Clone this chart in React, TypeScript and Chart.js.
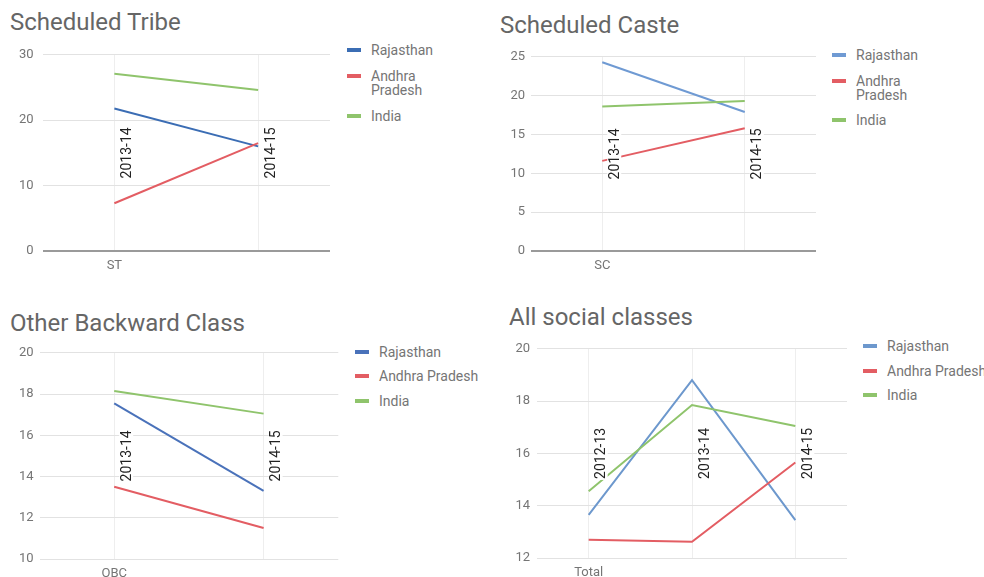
import React, { useEffect, useRef } from "react";
import { Chart, registerables } from "chart.js";

Chart.register(...registerables);

// ---------- data ----------
const seriesNames = ["Rajasthan", "Andhra Pradesh", "India"];

const stGroup = "ST";
const stYears = ["2013-14", "2014-15"];
const stRajasthan = [21.8, 16.0];
const stAndhra = [7.3, 16.5];
const stIndia = [27.1, 24.6];
const stTicks = [0, 10, 20, 30];

const scGroup = "SC";
const scYears = ["2013-14", "2014-15"];
const scRajasthan = [24.3, 17.9];
const scAndhra = [11.6, 15.8];
const scIndia = [18.6, 19.3];
const scTicks = [0, 5, 10, 15, 20, 25];

const obcGroup = "OBC";
const obcYears = ["2013-14", "2014-15"];
const obcRajasthan = [17.55, 13.3];
const obcAndhra = [13.5, 11.5];
const obcIndia = [18.15, 17.05];
const obcTicks = [10, 12, 14, 16, 18, 20];

const allGroup = "Total";
const allYears = ["2012-13", "2013-14", "2014-15"];
const allRajasthan = [13.65, 18.8, 13.45];
const allAndhra = [12.7, 12.62, 15.65];
const allIndia = [14.55, 17.85, 17.05];
const allTicks = [12, 14, 16, 18, 20];

// ---------- styling / layout ----------
const RED = "#e35d63";
const GREEN = "#8fc46c";

type PanelCfg = {
  title: string;
  titleLeft: number;
  titleTop: number;
  group: string;
  years: string[];
  series: number[][];
  ticks: number[];
  colors: string[];
  x0: number;
  area: { l: number; t: number; r: number; b: number };
  yPad: number;
  legend: { left: number; top: number; gap: number; wrap: boolean };
};

const panels: PanelCfg[] = [
  {
    title: "Scheduled Tribe",
    titleLeft: 10,
    titleTop: 10,
    group: stGroup,
    years: stYears,
    series: [stRajasthan, stAndhra, stIndia],
    ticks: stTicks,
    colors: ["#3b6db4", RED, GREEN],
    x0: 0,
    area: { l: 42.5, t: 50, r: 330, b: 251 },
    yPad: 9,
    legend: { left: 347, top: 43, gap: 12, wrap: true },
  },
  {
    title: "Scheduled Caste",
    titleLeft: 500,
    titleTop: 13,
    group: scGroup,
    years: scYears,
    series: [scRajasthan, scAndhra, scIndia],
    ticks: scTicks,
    colors: ["#6f9ad3", RED, GREEN],
    x0: 492,
    area: { l: 531, t: 55, r: 816, b: 251 },
    yPad: 6,
    legend: { left: 832, top: 48, gap: 11.5, wrap: true },
  },
  {
    title: "Other Backward Class",
    titleLeft: 10,
    titleTop: 310.5,
    group: obcGroup,
    years: obcYears,
    series: [obcRajasthan, obcAndhra, obcIndia],
    ticks: obcTicks,
    colors: ["#4a72ba", RED, GREEN],
    x0: 0,
    area: { l: 39.5, t: 351.7, r: 338.3, b: 559 },
    yPad: 6,
    legend: { left: 355, top: 345, gap: 10.4, wrap: false },
  },
  {
    title: "All social classes",
    titleLeft: 509,
    titleTop: 305,
    group: allGroup,
    years: allYears,
    series: [allRajasthan, allAndhra, allIndia],
    ticks: allTicks,
    colors: ["#6d98cd", RED, GREEN],
    x0: 492,
    area: { l: 537, t: 346, r: 847, b: 558 },
    yPad: 7,
    legend: { left: 863, top: 339, gap: 10.5, wrap: false },
  },
];

const yearLabelPlugin = {
  id: "yearLabels",
  afterDatasetsDraw(chart: any) {
    const { ctx, chartArea } = chart;
    const x = chart.scales.x;
    const labels: string[] = chart.data.labels;
    const cy = (chartArea.top + chartArea.bottom) / 2;
    ctx.save();
    ctx.font = "14px Roboto";
    labels.forEach((lab, i) => {
      const px = x.getPixelForValue(i) + 12;
      const w = ctx.measureText(lab).width;
      ctx.save();
      ctx.translate(px, cy);
      ctx.rotate(-Math.PI / 2);
      ctx.fillStyle = "#ffffff";
      ctx.fillRect(-w / 2 - 1, -7, w + 2, 14);
      ctx.fillStyle = "#222222";
      ctx.textAlign = "center";
      ctx.textBaseline = "middle";
      ctx.fillText(lab, 0, 1);
      ctx.restore();
    });
    ctx.restore();
  },
};

function Panel({ cfg }: { cfg: PanelCfg }) {
  const ref = useRef<HTMLCanvasElement>(null);
  const canvasLeft = cfg.x0;
  const canvasTop = Math.floor(cfg.area.t - 12);
  const canvasW = Math.ceil(cfg.area.r + 10 - canvasLeft);
  const canvasH = Math.ceil(cfg.area.b + 26 - canvasTop);

  useEffect(() => {
    const padTop = cfg.area.t - canvasTop;
    const padRight = canvasW - (cfg.area.r - canvasLeft);
    const yW = cfg.area.l - canvasLeft;
    const xH = canvasH - (cfg.area.b - canvasTop);
    const chart = new Chart(ref.current as HTMLCanvasElement, {
      type: "line",
      data: {
        labels: cfg.years,
        datasets: cfg.series.map((s, i) => ({
          label: seriesNames[i],
          data: s,
          borderColor: cfg.colors[i],
          backgroundColor: cfg.colors[i],
          borderWidth: 2,
          pointRadius: 0,
          pointHoverRadius: 0,
          tension: 0,
          fill: false,
          order: 2 - i,
        })),
      },
      options: {
        responsive: false,
        animation: false,
        layout: { padding: { top: padTop, right: padRight, left: 0, bottom: 0 } },
        plugins: {
          legend: { display: false },
          tooltip: { enabled: false },
          title: { display: false },
        },
        scales: {
          x: {
            offset: true,
            border: { display: false },
            grid: { color: "#eeeeee", drawTicks: false, lineWidth: 1 },
            ticks: {
              autoSkip: false,
              maxRotation: 0,
              padding: 7,
              color: "#757575",
              font: { family: "Roboto", size: 13 },
              callback: (_v: any, i: number) => (i === 0 ? cfg.group : ""),
            },
            afterFit: (s: any) => {
              s.height = xH;
            },
          },
          y: {
            min: cfg.ticks[0],
            max: cfg.ticks[cfg.ticks.length - 1],
            border: { display: false },
            grid: {
              drawTicks: false,
              color: (c: any) => (c.tick && c.tick.value === 0 ? "#9a9a9a" : "#e2e2e2"),
              lineWidth: (c: any) => (c.tick && c.tick.value === 0 ? 2 : 1),
            },
            ticks: {
              padding: cfg.yPad,
              color: "#757575",
              font: { family: "Roboto", size: 13 },
            },
            afterBuildTicks: (s: any) => {
              s.ticks = cfg.ticks.map((v) => ({ value: v }));
            },
            afterFit: (s: any) => {
              s.width = yW;
            },
          },
        },
      } as any,
      plugins: [yearLabelPlugin],
    });
    return () => chart.destroy();
  }, []);

  return (
    <>
      <div
        style={{
          position: "absolute",
          left: cfg.titleLeft,
          top: cfg.titleTop,
          fontFamily: "Roboto",
          fontSize: 24,
          lineHeight: "24px",
          color: "#666666",
          whiteSpace: "nowrap",
        }}
      >
        {cfg.title}
      </div>
      <canvas
        ref={ref}
        width={canvasW}
        height={canvasH}
        style={{ position: "absolute", left: canvasLeft, top: canvasTop, width: canvasW, height: canvasH }}
      />
      <div style={{ position: "absolute", left: cfg.legend.left, top: cfg.legend.top }}>
        {seriesNames.map((n, i) => (
          <div key={n} style={{ display: "flex", alignItems: "flex-start", marginBottom: cfg.legend.gap }}>
            <div style={{ width: 14, height: 4, marginTop: 5, background: cfg.colors[i], flex: "none" }} />
            <div
              style={{
                marginLeft: 10,
                fontFamily: "Roboto",
                fontSize: 14,
                lineHeight: "14px",
                color: "#757575",
                whiteSpace: cfg.legend.wrap ? "normal" : "nowrap",
                width: cfg.legend.wrap ? 70 : undefined,
              }}
            >
              {n}
            </div>
          </div>
        ))}
      </div>
    </>
  );
}

export default function App() {
  return (
    <div
      style={{
        position: "absolute",
        left: 0,
        top: 0,
        width: 984,
        height: 577,
        overflow: "hidden",
        background: "#ffffff",
      }}
    >
      {panels.map((p) => (
        <Panel key={p.title} cfg={p} />
      ))}
    </div>
  );
}
